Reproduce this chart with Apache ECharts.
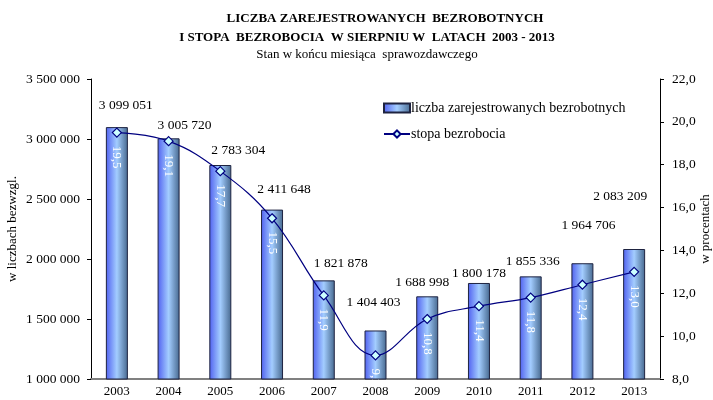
<!DOCTYPE html>
<html>
<head>
<meta charset="utf-8">
<script src="https://cdn.jsdelivr.net/npm/echarts@6/dist/echarts.min.js"></script>
<style>
  html, body { margin: 0; padding: 0; background: #fff; }
  #chart { width: 713px; height: 400px; }
</style>
</head>
<body>
<div id="chart"></div>
<script>
// dane z wykresu
var years = ['2003', '2004', '2005', '2006', '2007', '2008', '2009', '2010', '2011', '2012', '2013'];
var unemployed = [3099051, 3005720, 2783304, 2411648, 1821878, 1404403, 1688998, 1800178, 1855336, 1964706, 2083209];
var rate = [19.5, 19.1, 17.7, 15.5, 11.9, 9.1, 10.8, 11.4, 11.8, 12.4, 13.0];
var leftTicks = [1000000, 3500000, 500000];   // min, max, krok
var rightTicks = [8, 22, 2];

// przesuniecia etykiet nad slupkami (jak w oryginale z Excela)
var labelShift = [[9, -15], [16, -6], [18, -8], [12, -13], [17, -10], [-2, -21], [-5, -7], [0, -3], [2, -8], [6, -31], [-14, -46]];

var serif = '"Liberation Serif", "DejaVu Serif", serif';

function spaced(v) {
  return String(v).replace(/\B(?=(\d{3})+(?!\d))/g, ' ');
}
function comma(v) {
  return Number(v).toFixed(1).replace('.', ',');
}

var barFill = new echarts.graphic.LinearGradient(0, 0, 1, 0, [
  { offset: 0, color: '#5060f0' },
  { offset: 0.5, color: '#a3cdff' },
  { offset: 1, color: '#46688e' }
]);

var barData = unemployed.map(function (v, i) {
  return {
    value: v,
    label: { offset: labelShift[i] }
  };
});

var myChart = echarts.init(document.getElementById('chart'));
var option = {
  animation: false,
  backgroundColor: '#fff',
  title: [{
    text: 'LICZBA ZAREJESTROWANYCH  BEZROBOTNYCH',
    left: 380, top: 7, textAlign: 'center',
    textStyle: { fontFamily: serif, fontSize: 13, fontWeight: 'bold', color: '#000' }
  }, {
    text: 'I STOPA  BEZROBOCIA  W SIERPNIU W  LATACH  2003 - 2013',
    left: 362, top: 26, textAlign: 'center',
    textStyle: { fontFamily: serif, fontSize: 13, fontWeight: 'bold', color: '#000' }
  }, {
    text: 'Stan w końcu miesiąca  sprawozdawczego',
    left: 362, top: 43, textAlign: 'center',
    textStyle: { fontFamily: serif, fontSize: 13, fontWeight: 'normal', color: '#000' }
  }],
  legend: {
    orient: 'vertical',
    left: 378, top: 96,
    itemWidth: 26, itemHeight: 9, itemGap: 12,
    textStyle: { fontFamily: serif, fontSize: 14, color: '#000', padding: [0, 0, 0, -4] },
    data: [
      { name: 'liczba zarejestrowanych bezrobotnych', icon: 'rect' },
      { name: 'stopa bezrobocia' }
    ]
  },
  grid: { left: 91, right: 53, top: 79, bottom: 21, containLabel: false, outerBoundsMode: 'none' },
  xAxis: {
    type: 'category',
    data: years,
    axisLine: { lineStyle: { color: '#808080', width: 2 } },
    axisTick: { lineStyle: { color: '#000' }, length: 5 },
    axisLabel: { fontFamily: serif, fontSize: 13, color: '#000', margin: 6 }
  },
  yAxis: [{
    type: 'value',
    min: leftTicks[0], max: leftTicks[1], interval: leftTicks[2],
    name: 'w liczbach bezwzgl.',
    nameLocation: 'middle', nameGap: 72, nameMoveOverlap: false,
    nameTextStyle: { fontFamily: serif, fontSize: 13, color: '#000' },
    axisLine: { show: true, lineStyle: { color: '#000' } },
    axisTick: { show: true, length: 4, lineStyle: { color: '#000' } },
    axisLabel: { fontFamily: serif, fontSize: 13.5, color: '#000', margin: 11, formatter: spaced },
    splitLine: { show: false }
  }, {
    type: 'value',
    min: rightTicks[0], max: rightTicks[1], interval: rightTicks[2],
    name: 'w procentach',
    nameLocation: 'middle', nameGap: 39, nameMoveOverlap: false,
    nameTextStyle: { fontFamily: serif, fontSize: 13, color: '#000' },
    axisLine: { show: true, lineStyle: { color: '#000' } },
    axisTick: { show: true, length: 4, lineStyle: { color: '#000' } },
    axisLabel: { fontFamily: serif, fontSize: 13.5, color: '#000', margin: 12, formatter: comma },
    splitLine: { show: false }
  }],
  series: [{
    name: 'liczba zarejestrowanych bezrobotnych',
    type: 'bar',
    yAxisIndex: 0,
    barWidth: 22,
    data: barData,
    itemStyle: { color: barFill, borderColor: '#1e2340', borderWidth: 1 },
    label: {
      show: true, position: 'top', distance: 0,
      fontFamily: serif, fontSize: 13.5, color: '#000',
      formatter: function (p) { return spaced(p.value); }
    }
  }, {
    name: 'stopa bezrobocia',
    type: 'line',
    yAxisIndex: 1,
    smooth: 0.4,
    data: rate,
    symbol: 'diamond',
    symbolSize: 9,
    lineStyle: { color: '#000080', width: 1.2 },
    itemStyle: { color: '#ccffff', borderColor: '#000080', borderWidth: 1.2 },
    label: {
      show: true, position: 'bottom', distance: 8,
      rotate: -90, align: 'left', verticalAlign: 'middle',
      fontFamily: serif, fontSize: 13, color: '#fff',
      formatter: function (p) { return comma(p.value); }
    }
  }]
};
myChart.setOption(option);
</script>
</body>
</html>
